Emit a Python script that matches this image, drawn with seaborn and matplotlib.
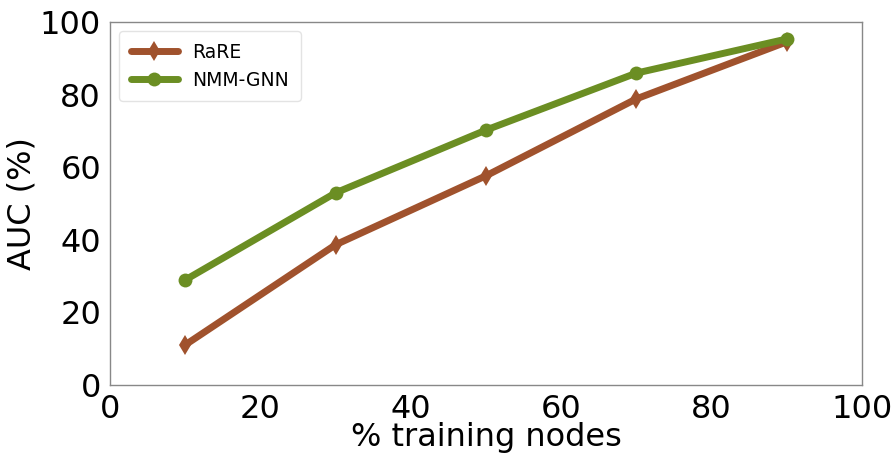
import matplotlib
matplotlib.use("Agg")
import matplotlib.pyplot as plt
import seaborn as sns
import pandas as pd

# data
train_pct = [10, 30, 50, 70, 90]
rare_auc = [11.0, 38.6, 57.6, 78.8, 94.5]
nmm_auc = [28.9, 52.9, 70.2, 85.9, 95.3]

sns.set_style("white")
plt.rcParams['font.family'] = ['DejaVu Sans']
plt.rcParams['text.color'] = 'black'
plt.rcParams['axes.labelcolor'] = 'black'
plt.rcParams['xtick.color'] = 'black'
plt.rcParams['ytick.color'] = 'black'

df = pd.DataFrame({
    "pct": train_pct * 2,
    "auc": rare_auc + nmm_auc,
    "method": ["RaRE"] * 5 + ["NMM-GNN"] * 5,
})

fig, ax = plt.subplots(figsize=(8.95, 4.57), dpi=100)
sns.lineplot(data=df, x="pct", y="auc", hue="method", style="method",
             markers={"RaRE": "d", "NMM-GNN": "o"}, dashes=False,
             palette={"RaRE": "#A0522D", "NMM-GNN": "#6B8E23"},
             linewidth=5, markersize=10, markeredgewidth=0, ax=ax)

ax.set_xlim(0, 100)
ax.set_ylim(0, 100)
ax.set_xticks([0, 20, 40, 60, 80, 100])
ax.set_yticks([0, 20, 40, 60, 80, 100])
ax.tick_params(axis="both", labelsize=23, direction="out", length=3, width=1)
ax.set_xlabel("% training nodes", fontsize=23, labelpad=-2)
ax.set_ylabel("AUC (%)", fontsize=23, labelpad=2)
for s in ax.spines.values():
    s.set_color("#888888")
    s.set_linewidth(1)

leg = ax.legend(loc="upper left", fontsize=13.5, frameon=True, borderpad=0.6,
                handlelength=2.5)
leg.get_frame().set_edgecolor("#dddddd")
for line in leg.get_lines():
    line.set_linewidth(5)

plt.subplots_adjust(left=0.123, right=0.963, top=0.952, bottom=0.158)
plt.savefig("out.png", dpi=100)
